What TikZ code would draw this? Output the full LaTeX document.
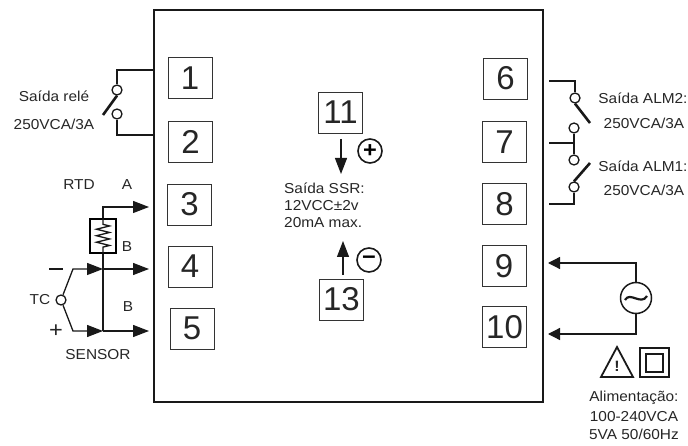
\documentclass[tikz,border=0pt]{standalone}
\usepackage{fontspec}
\setmainfont[FakeStretch=1.07]{Liberation Sans}
\newfontfamily\termfont[FakeStretch=1.0]{Liberation Sans}
\usetikzlibrary{arrows.meta,decorations.pathmorphing}
\tikzset{
    terminal/.style={draw=black!80, line width=0.9pt, minimum width=44pt, minimum height=41pt,
        inner sep=0pt, font=\termfont\fontsize{33}{33}\selectfont, text=black!85},
    label/.style={font=\fontsize{14.4}{16}\selectfont, text=black!85, inner sep=0pt},
    wire/.style={line width=1.3pt, black!90},
    blade/.style={line width=2.6pt, black!90},
    contact/.style={circle, draw=black!90, line width=1.3pt, fill=white, minimum size=10pt, inner sep=0pt},
    inhead/.style={-{Triangle[length=16pt,width=12pt]}},
    sign/.style={circle, draw=black!90, line width=1.6pt, minimum size=24pt, inner sep=0pt,
        font=\fontsize{22}{22}\bfseries\selectfont}
}
\begin{document}
\begin{tikzpicture}[x=1pt,y=-1pt]
    \useasboundingbox (0,0) rectangle (688,446);
    \begin{scope} % Case and terminals
        \draw[line width=2.2pt, black!90] (154,10) rectangle (543,402);
        \foreach \n/\x/\y in {1/190/78,2/190.5/141.5,3/189.5/204.5,4/190/266.5,5/192/328.5,
            6/505.5/78.5,7/504.5/142,8/504.5/204,9/504/266,10/504.5/327,
            11/340.5/112.5,13/341.5/299.5}
            \node[terminal] (t\n) at (\x,\y) {\n};
    \end{scope}
    \begin{scope} % Relay output
        \node[contact] (ra) at (117,90) {};
        \node[contact] (rb) at (117,114) {};
        \coordinate (ca) at (154,70);
        \coordinate (cb) at (154,135);
        \coordinate (rtip) at (103,115);
        \draw[wire] (ca) -| (ra);
        \draw[wire] (cb) -| (rb);
        \draw[blade] (ra.south) -- (rtip);
        \node[label] (relaytxt) at (54,96) {Saída relé};
        \node[label] (relayval) at (54,124) {250VCA/3A};
    \end{scope}
    \begin{scope} % Sensor inputs
        \node[draw, line width=1.3pt, minimum width=26pt, minimum height=34pt, inner sep=0pt] (rtd) at (103,236) {};
        \draw[wire, decorate, decoration={zigzag, amplitude=6.5pt, segment length=6.5pt, pre length=6pt, post length=6pt}]
            (rtd.north) -- (rtd.south);
        \node[contact] (tc) at (61,300) {};
        \coordinate (p3) at (149,207);
        \coordinate (p4) at (149,269);
        \coordinate (p5) at (149,331);
        \coordinate (j4) at (103,269);
        \coordinate (j5) at (103,331);
        \coordinate (b4) at (73,269);
        \coordinate (b5) at (73,331);
        \draw[wire, inhead] (rtd.north) |- (p3);
        \draw[wire] (rtd.south) -- (j5);
        \draw[wire, inhead] (j4) -- (p4);
        \draw[wire, inhead] (j5) -- (p5);
        \draw[wire, inhead] (tc) -- (b4) -- (j4);
        \draw[wire, inhead] (tc) -- (b5) -- (j5);
        \draw[line width=1.6pt, black!90] (49,269) -- (63,269);
        \node[label] (rtdtxt) at (79,185) {RTD};
        \node[label] (atxt) at (127,185) {A};
        \node[label] (btxt) at (127,247) {B};
        \node[label] (bbtxt) at (128,307) {B};
        \node[label] (tctxt) at (40,300) {TC};
        \node[label, font=\fontsize{22}{22}\selectfont] (plustxt) at (56,331) {+};
        \node[label] (sensortxt) at (98,355) {SENSOR};
    \end{scope}
    \begin{scope} % SSR output
        \coordinate (s11) at (341,139);
        \coordinate (m11) at (341,174);
        \coordinate (s13) at (343,275);
        \coordinate (m13) at (343,241);
        \draw[wire, inhead] (s11) -- (m11);
        \draw[wire, inhead] (s13) -- (m13);
        \node[sign] (pos) at (370,151) {+};
        \node[sign] (neg) at (369,260) {−};
        \node[label, anchor=west] (ssra) at (284,188) {Saída SSR:};
        \node[label, anchor=west] (ssrb) at (284,206) {12VCC±2v};
        \node[label, anchor=west] (ssrc) at (284,223) {20mA max.};
    \end{scope}
    \begin{scope} % Alarm outputs
        \node[contact] (al2a) at (575,98) {};
        \node[contact] (al2b) at (574,128) {};
        \node[contact] (al1a) at (574,160) {};
        \node[contact] (al1b) at (574,187) {};
        \coordinate (c6) at (549,81);
        \coordinate (c7) at (549,143);
        \coordinate (c8) at (549,204);
        \coordinate (j7) at (574,143);
        \coordinate (tip2) at (590,123);
        \coordinate (tip1) at (590,163);
        \draw[wire] (c6) -| (al2a);
        \draw[wire] (c8) -| (al1b);
        \draw[wire] (c7) -- (j7);
        \draw[wire] (al2b) -- (al1a);
        \draw[blade] (al2a.south) -- (tip2);
        \draw[blade] (al1b.north) -- (tip1);
        \node[label] (al2txt) at (643,98) {Saída ALM2:};
        \node[label] (al2val) at (644,123) {250VCA/3A};
        \node[label] (al1txt) at (643,166) {Saída ALM1:};
        \node[label] (al1val) at (644,190) {250VCA/3A};
    \end{scope}
    \begin{scope} % Power supply
        \node[circle, draw=black!90, line width=1.5pt, minimum size=31pt, inner sep=0pt] (ac) at (636,298) {};
        \draw[line width=2.2pt, black!90] (625,300) .. controls (630,291) and (641,306) .. (647,296);
        \coordinate (p9) at (548,263);
        \coordinate (p10) at (548,334);
        \draw[wire, -{Triangle[length=12pt,width=12pt]}] (ac.north) |- (p9);
        \draw[wire, -{Triangle[length=12pt,width=12pt]}] (ac.south) |- (p10);
        \draw[line width=1.8pt, black!90, line join=miter] (617,347) -- (633,377) -- (601,377) -- cycle;
        \node[label, font=\fontsize{15}{15}\bfseries\selectfont] (warn) at (617,366) {!};
        \draw[line width=1.4pt, black!90] (640,348) rectangle (669,377);
        \draw[line width=1.4pt, black!90] (646,354) rectangle (663,372);
        \node[label] (pwra) at (634,398) {Alimentação:};
        \node[label] (pwrb) at (634,417) {100-240VCA};
        \node[label] (pwrc) at (634,434) {5VA 50/60Hz};
    \end{scope}
\end{tikzpicture}
\end{document}
